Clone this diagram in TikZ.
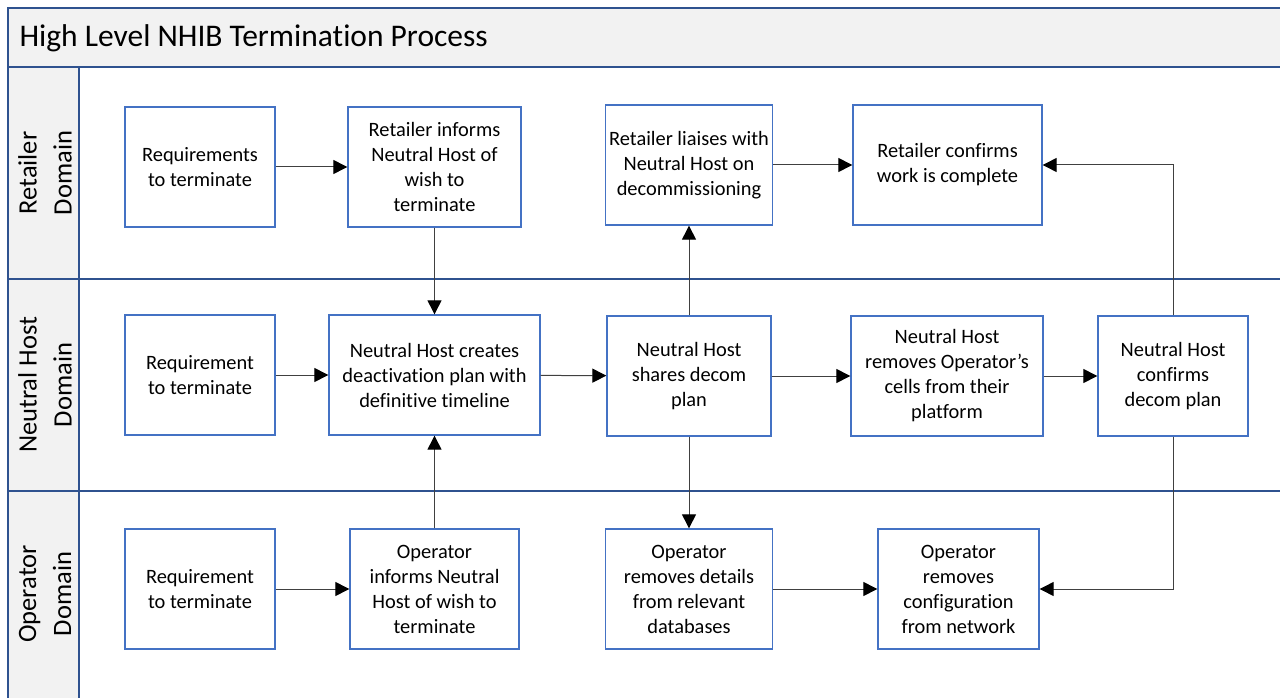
\documentclass[tikz,border=0pt]{standalone}
\usepackage{fontspec}
\setmainfont{Carlito}[Ligatures=NoCommon]
\usetikzlibrary{positioning,arrows.meta}
\definecolor{laneblue}{RGB}{47,82,143}
\definecolor{boxblue}{RGB}{68,114,196}
\definecolor{bandgray}{RGB}{242,242,242}
\tikzstyle{box}=[draw=boxblue,line width=1.3pt,fill=white,align=center,
minimum height=120pt,inner sep=2pt,font=\fontsize{20.4}{25}\selectfont]
\tikzstyle{flow}=[draw=black!75,line width=1pt,-{Triangle[length=14pt,width=14pt,color=black]}]
\tikzstyle{lanelabel}=[rotate=90,align=center,font=\fontsize{26.5}{35}\selectfont]

\begin{document}
\begin{tikzpicture}[x=1pt,y=-1pt,node distance=212pt,on grid]
  \useasboundingbox (0,0) rectangle (1280,698);
  % pool and lanes
  \fill[bandgray] (8,8) rectangle (1282,67);
  \fill[bandgray] (8,67) rectangle (79,700);
  \draw[laneblue,line width=1.5pt] (1282,8) -- (8,8) -- (8,700);
  \draw[laneblue,line width=1.5pt] (8,67) -- (1282,67);
  \draw[laneblue,line width=1.5pt] (8,279) -- (1282,279);
  \draw[laneblue,line width=1.5pt] (8,491) -- (1282,491);
  \draw[laneblue,line width=1.5pt] (79,67) -- (79,700);

  \node[anchor=west,font=\fontsize{31.5}{38}\selectfont] (title) at (16,38)
    {High Level NHIB Termination Process};
  \node[lanelabel] (lr) at (45,173) {Retailer\\Domain};
  \node[lanelabel] (ln) at (45,385) {Neutral Host\\Domain};
  \node[lanelabel] (lo) at (45,594) {Operator\\Domain};

  % retailer domain
  \node[box,minimum width=150pt] (r1) at (200,167) {Requirements\\to terminate};
  \node[box,minimum width=173pt] (r2) at (434.5,167)
    {Retailer informs\\Neutral Host of\\wish to\\terminate};
  \node[box,minimum width=167pt] (r3) at (689,165)
    {Retailer liaises with\\Neutral Host on\\decommissioning};
  \node[box,minimum width=189pt] (r4) at (947.5,165)
    {Retailer confirms\\work is complete};

  % neutral host domain
  \node[box,minimum width=150pt,below=208pt of r1] (n1) {Requirement\\to terminate};
  \node[box,minimum width=211pt,below=208pt of r2] (n2)
    {Neutral Host creates\\deactivation plan with\\definitive timeline};
  \node[box,minimum width=164pt] (n3) at (689,376)
    {Neutral Host\\shares decom\\plan};
  \node[box,minimum width=192pt] (n4) at (947,376)
    {Neutral Host\\removes Operator’s\\cells from their\\platform};
  \node[box,minimum width=150pt] (n5) at (1173,376)
    {Neutral Host\\confirms\\decom plan};

  % operator domain
  \node[box,minimum width=150pt,below=214pt of n1] (o1) {Requirement\\to terminate};
  \node[box,minimum width=169pt,below=214pt of n2] (o2)
    {Operator\\informs Neutral\\Host of wish to\\terminate};
  \node[box,minimum width=167pt,below=213pt of n3] (o3)
    {Operator\\removes details\\from relevant\\databases};
  \node[box,minimum width=161pt] (o4) at (958.5,589)
    {Operator\\removes\\configuration\\from network};

  \draw[flow] (r1) -- (r2);
  \draw[flow] (r3.east |- r4) -- (r4);
  \draw[flow] (r2) -- (n2);
  \draw[flow] (n1) -- (n2);
  \draw[flow] (n2) -- (n3);
  \draw[flow] (n3) -- (n4);
  \draw[flow] (n4) -- (n5);
  \draw[flow] (n3) -- (r3);
  \draw[flow] (n3) -- (o3);
  \draw[flow] (o2) -- (n2);
  \draw[flow] (o1) -- (o2);
  \draw[flow] (o3) -- (o4);
  \draw[flow] (n5.north) |- (r4.east);
  \draw[flow] (n5.south) |- (o4.east);
\end{tikzpicture}
\end{document}
